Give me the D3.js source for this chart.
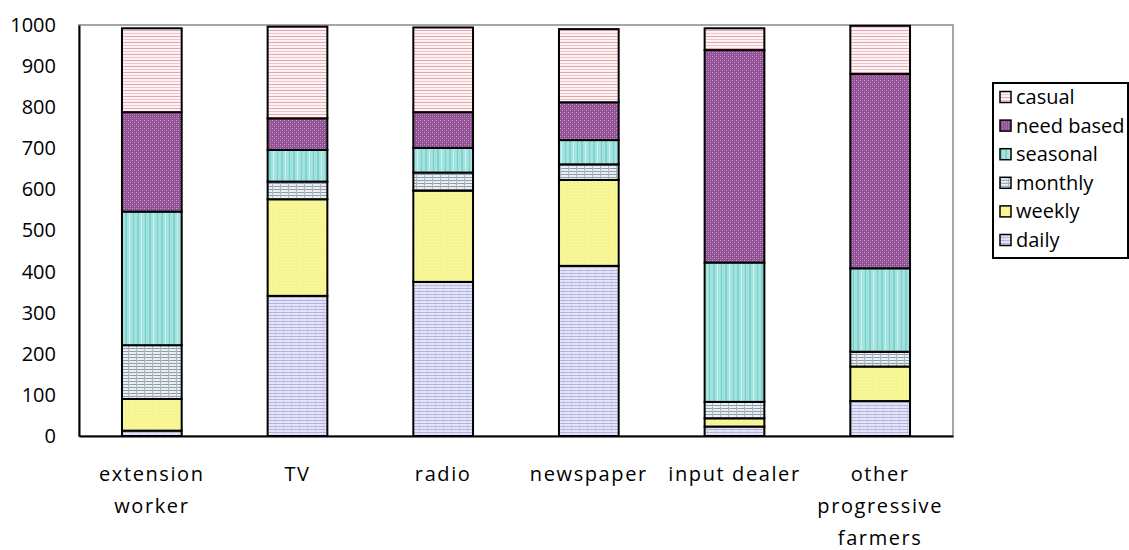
<!DOCTYPE html>
<html>
<head>
<meta charset="utf-8">
<script src="https://cdn.jsdelivr.net/npm/d3@7/dist/d3.min.js"></script>
<style>
  html, body { margin: 0; padding: 0; background: #fff; }
  svg { display: block; font-family: "Open Sans", "DejaVu Sans", sans-serif; }
</style>
</head>
<body>
<svg id="chart" width="1129" height="550"></svg>
<script>
// ---- data ----
const categories = ["extension worker", "TV", "radio", "newspaper", "input dealer", "other progressive farmers"];
const categoryLines = [["extension", "worker"], ["TV"], ["radio"], ["newspaper"], ["input dealer"], ["other", "progressive", "farmers"]];
const seriesNames = ["daily", "weekly", "monthly", "seasonal", "need based", "casual"];
const daily     = [13, 341, 375, 414, 23, 85];
const weekly    = [77, 235, 222, 209, 20, 84];
const monthly   = [131, 43, 44, 38, 40, 36];
const seasonal  = [325, 77, 60, 59, 339, 203];
const needBased = [242, 77, 87, 92, 517, 473];
const casual    = [204, 223, 206, 178, 53, 117];
const yTicks = [0, 100, 200, 300, 400, 500, 600, 700, 800, 900, 1000];

const seriesValues = [daily, weekly, monthly, seasonal, needBased, casual];

// ---- layout ----
const svg = d3.select("#chart");
const plot = { left: 79, right: 953, top: 25, bottom: 436 };

const x = d3.scaleBand().domain(categories).range([plot.left, plot.right])
  .paddingInner(0.59).paddingOuter(0.295);
const y = d3.scaleLinear().domain([0, 1000]).range([plot.bottom, plot.top]);

// ---- patterns ----
const defs = svg.append("defs");
function pat(id, w, h, bg, draw) {
  const p = defs.append("pattern").attr("id", id).attr("patternUnits", "userSpaceOnUse")
    .attr("width", w).attr("height", h);
  p.append("rect").attr("width", w).attr("height", h).attr("fill", bg);
  draw(p);
}
// casual: pink horizontal lines
pat("p-casual", 8, 6, "#fdf3f4", p => {
  p.append("rect").attr("x", 0).attr("y", 0).attr("width", 8).attr("height", 1).attr("fill", "#e2a6ae");
  p.append("rect").attr("x", 0).attr("y", 3).attr("width", 8).attr("height", 1).attr("fill", "#efc4c9");
});
// need based: purple checker
pat("p-need", 4, 4, "#8f4f92", p => {
  p.append("rect").attr("x", 0).attr("y", 0).attr("width", 1).attr("height", 1).attr("fill", "#c89bcb");
  p.append("rect").attr("x", 2).attr("y", 2).attr("width", 1).attr("height", 1).attr("fill", "#c89bcb");
  p.append("rect").attr("x", 2).attr("y", 0).attr("width", 1).attr("height", 1).attr("fill", "#a873ab");
  p.append("rect").attr("x", 0).attr("y", 2).attr("width", 1).attr("height", 1).attr("fill", "#a873ab");
});
// seasonal: teal vertical lines
pat("p-seasonal", 12, 4, "#a3e2de", p => {
  p.append("rect").attr("x", 1).attr("y", 0).attr("width", 1).attr("height", 4).attr("fill", "#73cfc9");
  p.append("rect").attr("x", 5).attr("y", 0).attr("width", 2).attr("height", 4).attr("fill", "#7fd4cf");
  p.append("rect").attr("x", 9).attr("y", 0).attr("width", 1).attr("height", 4).attr("fill", "#c8efec");
});
// monthly: grey grid on white
pat("p-monthly", 8, 3, "#eceff2", p => {
  p.append("rect").attr("x", 0).attr("y", 0).attr("width", 8).attr("height", 1).attr("fill", "#8c9dab");
  p.append("rect").attr("x", 0).attr("y", 0).attr("width", 1).attr("height", 3).attr("fill", "#a9b6c0");
});
// weekly: yellow fine dots
pat("p-weekly", 3, 3, "#f7f590", p => {
  p.append("rect").attr("x", 1).attr("y", 1).attr("width", 1).attr("height", 1).attr("fill", "#fbfbc4");
});
// daily: lavender horizontal lines
pat("p-daily", 8, 3, "#e4e4f6", p => {
  p.append("rect").attr("x", 0).attr("y", 0).attr("width", 8).attr("height", 1).attr("fill", "#b4b4e0");
  p.append("rect").attr("x", 3).attr("y", 1).attr("width", 1).attr("height", 2).attr("fill", "#d2d2ee");
});
const fills = {
  "daily": "url(#p-daily)", "weekly": "url(#p-weekly)", "monthly": "url(#p-monthly)",
  "seasonal": "url(#p-seasonal)", "need based": "url(#p-need)", "casual": "url(#p-casual)"
};

// ---- plot frame ----
svg.append("rect").attr("x", plot.left).attr("y", plot.top)
  .attr("width", plot.right - plot.left).attr("height", plot.bottom - plot.top)
  .attr("fill", "none").attr("stroke", "#a6a6a6").attr("stroke-width", 2);

// ---- stacked bars ----
const table = categories.map((c, i) => {
  const row = { category: c };
  seriesNames.forEach((s, k) => row[s] = seriesValues[k][i]);
  return row;
});
const stacked = d3.stack().keys(seriesNames)(table);

svg.append("g").selectAll("g").data(stacked).join("g")
  .attr("fill", d => fills[d.key])
  .selectAll("rect").data(d => d).join("rect")
  .attr("x", d => x(d.data.category))
  .attr("width", x.bandwidth())
  .attr("y", d => y(d[1]))
  .attr("height", d => y(d[0]) - y(d[1]))
  .attr("stroke", "#000").attr("stroke-width", 2);

// ---- axes ----
const yAxis = d3.axisLeft(y).tickValues(yTicks).tickSize(0).tickPadding(23).tickFormat(d3.format("d"));
const gy = svg.append("g").attr("transform", `translate(${plot.left},0)`).call(yAxis);
gy.select(".domain").attr("stroke", "#000").attr("stroke-width", 2);
gy.selectAll("text").attr("font-size", 20).attr("fill", "#000")
  .attr("font-family", "'Open Sans', sans-serif");

const xAxis = d3.axisBottom(x).tickSize(0).tickFormat("");
const gx = svg.append("g").attr("transform", `translate(0,${plot.bottom})`).call(xAxis);
gx.select(".domain").attr("stroke", "#000").attr("stroke-width", 2);

// category labels (multi-line)
const lbl = svg.append("g").selectAll("text").data(categories).join("text")
  .attr("x", d => x(d) + x.bandwidth() / 2)
  .attr("y", 481)
  .attr("text-anchor", "middle")
  .attr("font-size", 20)
  .attr("letter-spacing", 1.6)
  .attr("fill", "#000");
lbl.each(function(d, i) {
  const t = d3.select(this);
  categoryLines[i].forEach((line, j) => {
    t.append("tspan").attr("x", x(d) + x.bandwidth() / 2).attr("dy", j === 0 ? 0 : 32).text(line);
  });
});

// ---- legend ----
const legendOrder = seriesNames.slice().reverse();
const lg = svg.append("g");
lg.append("rect").attr("x", 993).attr("y", 83).attr("width", 135).attr("height", 175)
  .attr("fill", "#fff").attr("stroke", "#000").attr("stroke-width", 2);
const rows = lg.selectAll("g.row").data(legendOrder).join("g").attr("class", "row")
  .attr("transform", (d, i) => `translate(1000,${97 + i * 28.6})`);
rows.append("rect").attr("x", 0).attr("y", -5.5).attr("width", 11).attr("height", 11)
  .attr("fill", d => fills[d]).attr("stroke", "#000").attr("stroke-width", 1.5);
rows.append("text").attr("x", 16).attr("y", 0).attr("dy", "0.35em")
  .attr("font-size", 20).attr("fill", "#000").text(d => d);
</script>
</body>
</html>
